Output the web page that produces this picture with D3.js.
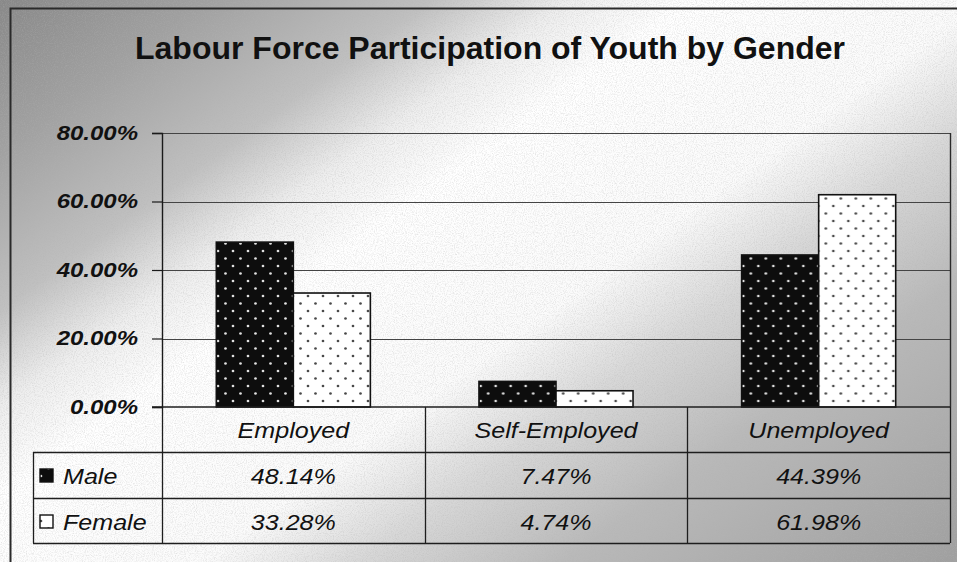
<!DOCTYPE html>
<html>
<head>
<meta charset="utf-8">
<script src="https://cdn.jsdelivr.net/npm/d3@7"></script>
<style>
  html, body { margin: 0; padding: 0; background: #ffffff; }
  svg { display: block; }
  text { font-family: "Liberation Sans", Arial, Helvetica, sans-serif; fill: #111; }
</style>
</head>
<body>
<svg id="chart" width="957" height="562"></svg>
<script>
// ---- data ----
const categories = ["Employed", "Self-Employed", "Unemployed"];
const series = ["Male", "Female"];
const maleValues = [0.4814, 0.0747, 0.4439];
const femaleValues = [0.3328, 0.0474, 0.6198];
const yTicks = [0, 0.2, 0.4, 0.6, 0.8];
const chartTitle = "Labour Force Participation of Youth by Gender";

const valuesBySeries = { Male: maleValues, Female: femaleValues };

// ---- layout ----
const W = 957, H = 562;
const plot = { left: 162, right: 950, top: 133, bottom: 407 };
const rowH = [45, 46, 45];          // category row, Male row, Female row
const legendLeft = 33;
const stretch = 1.14;               // wide glyph look of the labels

const svg = d3.select("#chart");
const defs = svg.append("defs");

// background: grey with a pale diagonal sheen
const bg = defs.append("linearGradient")
  .attr("id", "bgGrad").attr("gradientUnits", "userSpaceOnUse")
  .attr("x1", 0).attr("y1", 0).attr("x2", 586).attr("y2", 818);
[[0, "#888888"], [0.12, "#a0a0a0"], [0.25, "#c0c0c0"], [0.33, "#eeeeee"],
 [0.40, "#ffffff"], [0.57, "#fbfbfb"], [0.66, "#d8d8d8"], [0.78, "#b9b9b9"],
 [1, "#a0a0a0"]].forEach(([o, c]) => bg.append("stop").attr("offset", o).attr("stop-color", c));

// grain
const grain = defs.append("filter").attr("id", "grain")
  .attr("x", 0).attr("y", 0).attr("width", "100%").attr("height", "100%");
grain.append("feTurbulence").attr("type", "fractalNoise")
  .attr("baseFrequency", 0.9).attr("numOctaves", 2).attr("seed", 4).attr("result", "n");
grain.append("feColorMatrix").attr("in", "n").attr("type", "matrix")
  .attr("values", "0 0 0 0 0.45  0 0 0 0 0.45  0 0 0 0 0.45  0 0 0 -1.3 0.75");

// dotted fills for the bars
function dotPattern(id, ground, dot) {
  const p = defs.append("pattern").attr("id", id)
    .attr("patternUnits", "userSpaceOnUse").attr("width", 15).attr("height", 15);
  p.append("rect").attr("width", 15).attr("height", 15).attr("fill", ground);
  p.append("circle").attr("cx", 3.5).attr("cy", 3.5).attr("r", 1.35).attr("fill", dot);
  p.append("circle").attr("cx", 11).attr("cy", 11).attr("r", 1.35).attr("fill", dot);
}
dotPattern("patMale", "#0d0d0d", "#e0e0e0");
dotPattern("patFemale", "#ffffff", "#4a4a4a");
const fillFor = { Male: "url(#patMale)", Female: "url(#patFemale)" };

svg.append("rect").attr("width", W).attr("height", H).attr("fill", "url(#bgGrad)");
svg.append("rect").attr("width", W).attr("height", H).attr("filter", "url(#grain)").attr("opacity", 0.6);

// chart frame
svg.append("rect").attr("x", 10.5).attr("y", 8.5).attr("width", 980).attr("height", 600)
  .attr("fill", "none").attr("stroke", "#2a2a2a").attr("stroke-width", 2);

// title
svg.append("text").attr("x", 490).attr("y", 59).attr("text-anchor", "middle")
  .style("font-size", "32px").style("font-weight", "bold").text(chartTitle);

// ---- scales ----
const x = d3.scaleBand().domain(categories).range([plot.left, plot.right]).padding(0);
const xs = d3.scaleBand().domain(series).range([0, x.bandwidth()])
  .paddingInner(0).paddingOuter(0.705);
const y = d3.scaleLinear().domain([0, 0.8]).range([plot.bottom, plot.top]);

// gridlines
svg.append("g").selectAll("line").data(yTicks.filter(d => d > 0)).join("line")
  .attr("x1", plot.left).attr("x2", plot.right)
  .attr("y1", d => Math.round(y(d)) + 0.5).attr("y2", d => Math.round(y(d)) + 0.5)
  .attr("stroke", "#444444").attr("stroke-width", 1.2);

// plot right edge
svg.append("line").attr("x1", plot.right + 0.5).attr("x2", plot.right + 0.5)
  .attr("y1", plot.top).attr("y2", plot.bottom)
  .attr("stroke", "#2a2a2a").attr("stroke-width", 1.4);

// bars
const bars = svg.append("g").selectAll("g").data(categories).join("g")
  .attr("transform", d => `translate(${x(d)},0)`);
bars.selectAll("rect")
  .data((c, i) => series.map(s => ({ s, v: valuesBySeries[s][i] })))
  .join("rect")
  .attr("x", d => xs(d.s)).attr("width", xs.bandwidth())
  .attr("y", d => y(d.v)).attr("height", d => y(0) - y(d.v))
  .attr("fill", d => fillFor[d.s])
  .attr("stroke", "#111").attr("stroke-width", 1.6);

// y axis
const yAxis = svg.append("g").attr("transform", `translate(${plot.left},0)`)
  .call(d3.axisLeft(y).tickValues(yTicks).tickFormat(d3.format(".2%")).tickSize(10).tickPadding(14));
yAxis.select(".domain").attr("stroke", "#1a1a1a").attr("stroke-width", 1.4);
yAxis.selectAll(".tick line").attr("stroke", "#1a1a1a").attr("stroke-width", 1.2);
yAxis.selectAll(".tick text")
  .attr("x", -24 / 1.2)
  .attr("transform", "scale(1.2,1)")
  .style("font-size", "20px").style("font-weight", "bold").style("font-style", "italic")
  .attr("fill", "#151515");

// ---- data table ----
const tableTop = plot.bottom;
const rowY = [tableTop, tableTop + rowH[0], tableTop + rowH[0] + rowH[1], tableTop + rowH[0] + rowH[1] + rowH[2]];
const tbl = svg.append("g").attr("stroke", "#1e1e1e").attr("stroke-width", 1.3);

// horizontal rules
tbl.append("line").attr("x1", plot.left - 10).attr("x2", plot.right).attr("y1", rowY[0]).attr("y2", rowY[0]).attr("stroke-width", 1.6);
[1, 2, 3].forEach(i => tbl.append("line")
  .attr("x1", legendLeft).attr("x2", plot.right)
  .attr("y1", rowY[i] + 0.5).attr("y2", rowY[i] + 0.5));
// vertical rules
tbl.append("line").attr("x1", legendLeft + 0.5).attr("x2", legendLeft + 0.5).attr("y1", rowY[1]).attr("y2", rowY[3]);
[plot.left, ...categories.slice(1).map(c => x(c)), plot.right].forEach(xv =>
  tbl.append("line").attr("x1", Math.round(xv) + 0.5).attr("x2", Math.round(xv) + 0.5)
    .attr("y1", rowY[0]).attr("y2", rowY[3]));

function stretchedText(g, tx, ty, str, size, anchor) {
  g.append("text")
    .attr("transform", `translate(${tx},${ty}) scale(${stretch},1)`)
    .attr("text-anchor", anchor)
    .style("font-size", size + "px").style("font-style", "italic")
    .attr("fill", "#151515")
    .text(str);
}

const labels = svg.append("g");
categories.forEach(c => stretchedText(labels, x(c) + x.bandwidth() / 2, rowY[0] + 31, c, 22, "middle"));

const pct = d3.format(".2%");
series.forEach((s, si) => {
  const base = rowY[si + 1] + 32;
  valuesBySeries[s].forEach((v, ci) =>
    stretchedText(labels, x(categories[ci]) + x.bandwidth() / 2, base, pct(v), 22, "middle"));
  // legend key
  labels.append("rect")
    .attr("x", 40).attr("y", base - 15).attr("width", 13).attr("height", 13)
    .attr("fill", fillFor[s]).attr("stroke", "#111").attr("stroke-width", 1.4);
  stretchedText(labels, 63, base, s, 22, "start");
});
</script>
</body>
</html>
